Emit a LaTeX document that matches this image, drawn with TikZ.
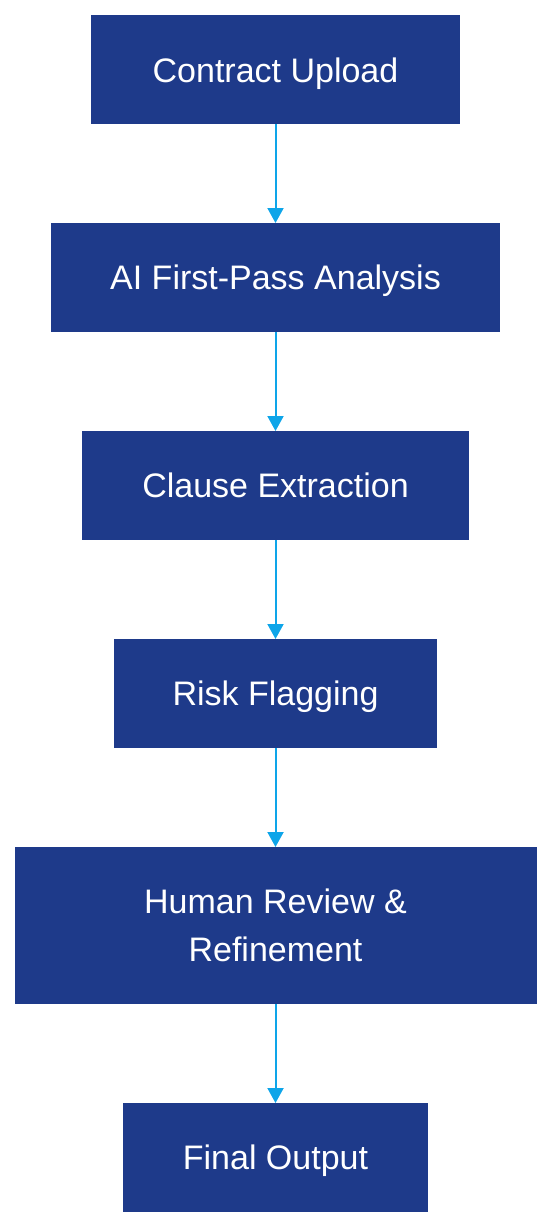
\documentclass[tikz,border=0pt]{standalone}
\usepackage{fontspec}
\setmainfont{Liberation Sans}
\usetikzlibrary{arrows.meta}
\definecolor{boxblue}{HTML}{1E3A8A}
\definecolor{arrowblue}{HTML}{0EA5E9}
\tikzset{
  stepbox/.style={fill=boxblue, draw=none, inner sep=0pt, outer sep=0pt, text=white,
    font=\fontsize{34}{48}\selectfont, align=center, minimum height=109pt, text depth=0pt},
  flow/.style={draw=arrowblue, line width=2pt, -{Triangle[width=16pt,length=15pt]}}
}
\begin{document}
\begin{tikzpicture}[x=1pt,y=-1pt]
\useasboundingbox (0,0) rectangle (552,1228);
\node[stepbox, minimum width=369pt] (a) at (275.5,70) {Contract Upload};
\node[stepbox, minimum width=449pt] (b) at (275.5,277.5) {AI First-Pass Analysis};
\node[stepbox, minimum width=387pt] (c) at (275.5,485.5) {Clause Extraction};
\node[stepbox, minimum width=323pt] (d) at (275.5,693.5) {Risk Flagging};
\node[stepbox, minimum width=522pt, minimum height=157pt] (e) at (275.5,925.5) {Human Review \&\\Refinement};
\node[stepbox, minimum width=305pt] (f) at (275.5,1157.5) {Final Output};
\draw[flow] (a.south) -- (b.north);
\draw[flow] (b.south) -- (c.north);
\draw[flow] (c.south) -- (d.north);
\draw[flow] (d.south) -- (e.north);
\draw[flow] (e.south) -- (f.north);
\end{tikzpicture}
\end{document}
